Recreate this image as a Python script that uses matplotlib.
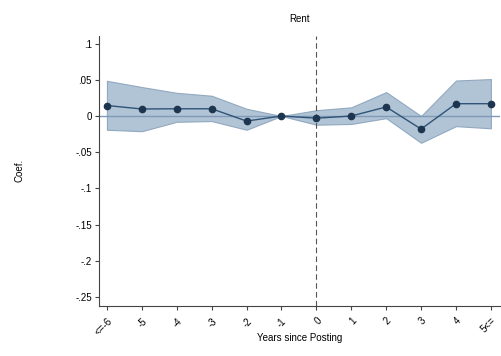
import matplotlib
matplotlib.use("Agg")
import matplotlib.pyplot as plt
import numpy as np

plt.rcParams['font.family'] = ['Liberation Sans', 'DejaVu Sans']

years = [-6, -5, -4, -3, -2, -1, 0, 1, 2, 3, 4, 5]
tick_labels = ["<=-6", "-5", "-4", "-3", "-2", "-1", "0", "1", "2", "3", "4", "5<="]
coef = [0.0145, 0.0097, 0.010, 0.010, -0.007, 0.0, -0.003, 0.0, 0.0125, -0.018, 0.017, 0.017]
ci_upper = [0.0486, 0.040, 0.032, 0.028, 0.010, 0.0, 0.008, 0.012, 0.033, 0.0, 0.049, 0.051]
ci_lower = [-0.019, -0.021, -0.008, -0.007, -0.019, 0.0, -0.012, -0.011, -0.003, -0.037, -0.014, -0.017]
y_ticks = [0.1, 0.05, 0, -0.05, -0.1, -0.15, -0.2, -0.25]
y_tick_labels = [".1", ".05", "0", "-.05", "-.1", "-.15", "-.2", "-.25"]

fig = plt.figure(figsize=(5.02, 3.56), dpi=100)
ax = fig.add_axes([0.197, 0.140, 0.799, 0.76])

ax.fill_between(years, ci_lower, ci_upper, color='#a9bed1', alpha=0.9, linewidth=0.8,
                edgecolor='#8aa3bb', zorder=1)
ax.axhline(0, color='#7f9ab8', linewidth=1.0, zorder=2)
ax.axvline(0, color='#555555', linewidth=0.8, linestyle=(0, (5, 3)), zorder=2)
ax.plot(years, coef, color='#2f5378', linewidth=1.0, marker='o', markersize=4.5,
        markerfacecolor='#1e3550', markeredgecolor='#1e3550', zorder=3)

ax.set_xlim(-6.23, 5.26)
ax.set_ylim(-0.2625, 0.111)
ax.set_xticks(years)
ax.set_xticklabels(tick_labels, rotation=45, fontsize=7, ha='right', va='top',
                   rotation_mode='anchor')
ax.set_yticks(y_ticks)
ax.set_yticklabels(y_tick_labels, fontsize=7)
ax.tick_params(axis='both', length=3, width=0.8, color='#444444', pad=2)
ax.tick_params(axis='x', pad=4)

for s in ['top', 'right']:
    ax.spines[s].set_visible(False)
for s in ['left', 'bottom']:
    ax.spines[s].set_color('#444444')
    ax.spines[s].set_linewidth(0.8)

ax.set_xlabel("Years since Posting", fontsize=7, va='center')
ax.xaxis.set_label_coords(0.5, -0.118)
ax.set_ylabel("Coef.", fontsize=7, va='center')
ax.yaxis.set_label_coords(-0.197, 0.5)
ax.set_title("Rent", fontsize=7, pad=10)

fig.savefig("out.png", dpi=100)
